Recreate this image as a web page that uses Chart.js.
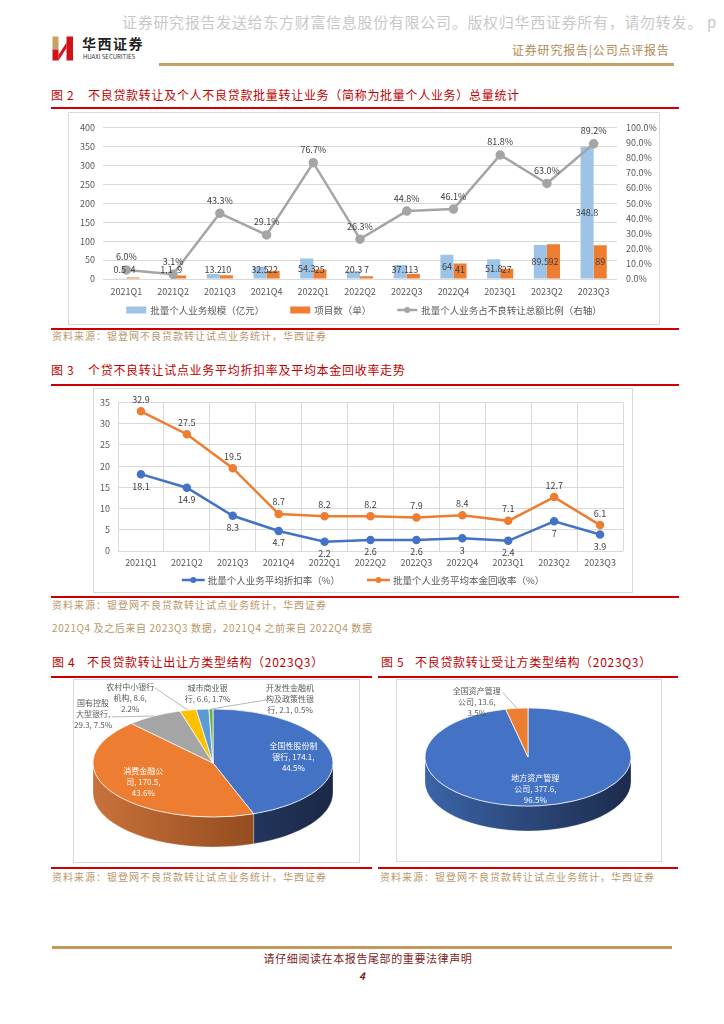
<!DOCTYPE html>
<html lang="zh-CN">
<head>
<meta charset="utf-8">
<title>不良贷款转让统计</title>
<script src="https://cdn.jsdelivr.net/npm/chart.js@4.4.1/dist/chart.umd.min.js"></script>
<style>
  body { margin: 0; background: #fff; }
  #page { position: relative; width: 724px; height: 1024px; overflow: hidden;
          font-family: "Noto Sans CJK SC", "Noto Sans", sans-serif; }
  .t { position: absolute; white-space: nowrap; line-height: 1; }
  .rule { position: absolute; height: 2px; background: #cc0000; }
  .box { position: absolute; border: 1px solid #d9d9d9; box-sizing: border-box; }
  .box div { position: relative; width: 100%; height: 100%; }
  .title { color: #c00000; font-size: 12px; letter-spacing: 0.7px; }
  .src { color: #b8976a; font-size: 10px; letter-spacing: 1px; }
</style>
</head>
<body>
<div id="page">
  <div class="t" style="left:122px;top:14px;font-size:15px;letter-spacing:0.7px;color:#c8c8c8;">证券研究报告发送给东方财富信息股份有限公司。版权归华西证券所有，请勿转发。 p</div>

  <svg style="position:absolute;left:52px;top:36px;" width="22" height="25" viewBox="0 0 22 25">
    <rect x="0.5" y="0.5" width="6" height="13" fill="#c9a063"/>
    <rect x="0.5" y="13.5" width="6" height="11" fill="#d0121b"/>
    <rect x="14.5" y="0.5" width="6.5" height="24" fill="#d0121b"/>
    <polygon points="6.5,19 6.5,24.5 14.5,12 14.5,6.5" fill="#d0121b"/>
  </svg>
  <div class="t" style="left:82px;top:36px;font-size:14px;font-weight:bold;letter-spacing:1.5px;color:#222;">华西证券</div>
  <div class="t" style="left:83px;top:54px;font-size:6px;color:#333;">HUAXI SECURITIES</div>
  <div class="t" style="left:512px;top:44px;font-size:12px;letter-spacing:0.8px;color:#b08a52;">证券研究报告|公司点评报告</div>
  <div style="position:absolute;left:159px;top:63px;width:515px;height:2.5px;background:#c9a063;"></div>

  <div class="t title" style="left:51px;top:89px;">图 2</div>
  <div class="t title" style="left:88px;top:89px;">不良贷款转让及个人不良贷款批量转让业务（简称为批量个人业务）总量统计</div>
  <div class="rule" style="left:51px;top:107px;width:628px;"></div>
  <div class="box" style="left:68px;top:112px;width:592px;height:213px;"><div><canvas id="c1"></canvas></div></div>
  <div class="rule" style="left:51px;top:328px;width:628px;"></div>
  <div class="t src" style="left:52px;top:331px;">资料来源：银登网不良贷款转让试点业务统计，华西证券</div>

  <div class="t title" style="left:51px;top:364px;">图 3</div>
  <div class="t title" style="left:88px;top:364px;">个贷不良转让试点业务平均折扣率及平均本金回收率走势</div>
  <div class="rule" style="left:51px;top:384px;width:628px;"></div>
  <div class="box" style="left:93px;top:388px;width:540px;height:205px;"><div><canvas id="c2"></canvas></div></div>
  <div class="rule" style="left:51px;top:596px;width:628px;"></div>
  <div class="t src" style="left:52px;top:600px;">资料来源：银登网不良贷款转让试点业务统计，华西证券</div>
  <div class="t src" style="left:52px;top:623px;letter-spacing:0.6px;">2021Q4 及之后来自 2023Q3 数据，2021Q4 之前来自 2022Q4 数据</div>

  <div class="t title" style="left:52px;top:656px;">图 4</div>
  <div class="t title" style="left:87px;top:656px;">不良贷款转让出让方类型结构（2023Q3）</div>
  <div class="t title" style="left:381px;top:656px;">图 5</div>
  <div class="t title" style="left:415px;top:656px;">不良贷款转让受让方类型结构（2023Q3）</div>
  <div class="rule" style="left:51px;top:676px;width:321px;"></div>
  <div class="rule" style="left:378px;top:676px;width:300px;"></div>
  <div class="box" style="left:73px;top:679px;width:287px;height:184px;"><div><canvas id="c3"></canvas></div></div>
  <div class="box" style="left:396px;top:679px;width:266px;height:183px;"><div><canvas id="c4"></canvas></div></div>
  <div class="rule" style="left:51px;top:867px;width:321px;"></div>
  <div class="rule" style="left:378px;top:867px;width:300px;"></div>
  <div class="t src" style="left:52px;top:872px;">资料来源：银登网不良贷款转让试点业务统计，华西证券</div>
  <div class="t src" style="left:380px;top:872px;">资料来源：银登网不良贷款转让试点业务统计，华西证券</div>

  <div style="position:absolute;left:52px;top:946px;width:620px;height:3px;background:#c49a5c;"></div>
  <div class="t" style="left:0;width:736px;text-align:center;top:953px;font-size:11px;letter-spacing:0.6px;color:#7b1c1c;">请仔细阅读在本报告尾部的重要法律声明</div>
  <div class="t" style="left:359px;top:971px;font-size:10px;font-weight:bold;font-style:italic;color:#7b1c1c;">4</div>
</div>

<script>
const FONT = '"Noto Sans CJK SC", "Noto Sans", sans-serif';

// 图2 / 图3 共用季度
const quarters = ['2021Q1', '2021Q2', '2021Q3', '2021Q4', '2022Q1', '2022Q2', '2022Q3', '2022Q4', '2023Q1', '2023Q2', '2023Q3'];
const batchScale = [0.5, 1.1, 13.2, 32.5, 54.3, 20.3, 37.1, 64, 51.8, 89.5, 348.8];
const projectCount = [4, 9, 10, 22, 25, 7, 13, 41, 27, 92, 89];
const batchShare = [6.0, 3.1, 43.3, 29.1, 76.7, 26.3, 44.8, 46.1, 81.8, 63.0, 89.2];
const scaleAxis = { max: 400, step: 50 };
const shareAxis = { max: 100, step: 10 };

const discountRate = [18.1, 14.9, 8.3, 4.7, 2.2, 2.6, 2.6, 3, 2.4, 7, 3.9];
const recoveryRate = [32.9, 27.5, 19.5, 8.7, 8.2, 8.2, 7.9, 8.4, 7.1, 12.7, 6.1];
const rateAxis = { max: 35, step: 5 };

// 图4 / 图5 饼图
const sellerTypes = ['全国性股份制银行', '消费金融公司', '国有控股大型银行', '农村中小银行机构', '城市商业银行', '开发性金融机构及政策性银行'];
const sellerAmount = [174.1, 170.5, 29.3, 8.6, 6.6, 2.1];
const sellerShare = [44.5, 43.6, 7.5, 2.2, 1.7, 0.5];
const buyerTypes = ['地方资产管理公司', '全国资产管理公司'];
const buyerAmount = [377.6, 13.6];
const buyerShare = [96.5, 3.5];

const tickFont = { family: FONT, size: 9 };

function bottomLegend(o) {
  return {
    id: 'bottomLegend',
    afterDraw(chart) {
      const ctx = chart.ctx;
      ctx.save();
      ctx.font = o.size + 'px ' + FONT;
      const items = chart.data.datasets.map((ds, i) => ({
        ds, line: chart.getDatasetMeta(i).type === 'line',
        w: o.marker + o.gap + ctx.measureText(ds.label).width
      }));
      const total = items.reduce((s, it) => s + it.w, 0) + o.spacing * (items.length - 1);
      let x = (chart.width - total) / 2;
      const y = chart.height - o.bottom;
      items.forEach(it => {
        if (it.line) {
          ctx.strokeStyle = it.ds.borderColor; ctx.lineWidth = 2.5;
          ctx.beginPath(); ctx.moveTo(x, y); ctx.lineTo(x + o.marker, y); ctx.stroke();
          ctx.fillStyle = it.ds.borderColor;
          ctx.beginPath(); ctx.arc(x + o.marker / 2, y, 3, 0, Math.PI * 2); ctx.fill();
        } else {
          ctx.fillStyle = it.ds.backgroundColor;
          ctx.fillRect(x, y - o.box / 2, o.marker, o.box);
        }
        ctx.fillStyle = '#595959'; ctx.textBaseline = 'middle'; ctx.textAlign = 'left';
        ctx.fillText(it.ds.label, x + o.marker + o.gap, y + 0.5);
        x += it.w + o.spacing;
      });
      ctx.restore();
    }
  };
}

// places: 'center' | 'above' | 'below'
function valueLabels(o) {
  return {
    id: 'valueLabels',
    afterDatasetsDraw(chart) {
      const ctx = chart.ctx;
      ctx.save();
      ctx.font = o.size + 'px ' + FONT;
      ctx.fillStyle = '#404040'; ctx.textAlign = 'center'; ctx.textBaseline = 'middle';
      chart.data.datasets.forEach((ds, i) => {
        chart.getDatasetMeta(i).data.forEach((el, j) => {
          const v = ds.data[j];
          const txt = (o.decimals[i] == null ? String(v) : v.toFixed(o.decimals[i])) + o.suffix[i];
          let y;
          if (o.places[i] === 'center') y = Math.min((el.y + el.base) / 2, el.base - 9);
          else if (o.places[i] === 'below') y = el.y + o.gap;
          else y = el.y - o.gap;
          ctx.fillText(txt, el.x, y);
        });
      });
      ctx.restore();
    }
  };
}

new Chart(document.getElementById('c1'), {
  type: 'bar',
  data: {
    labels: quarters,
    datasets: [
      { label: '批量个人业务规模（亿元）', data: batchScale, backgroundColor: '#9DC3E6', yAxisID: 'y', order: 2 },
      { label: '项目数（单）', data: projectCount, backgroundColor: '#ED7D31', yAxisID: 'y', order: 2 },
      { type: 'line', label: '批量个人业务占不良转让总额比例（右轴）', data: batchShare, yAxisID: 'y1', order: 1,
        borderColor: '#A5A5A5', backgroundColor: '#A5A5A5', borderWidth: 2.5, pointRadius: 3.5 }
    ]
  },
  options: {
    animation: false, responsive: true, maintainAspectRatio: false,
    layout: { padding: { top: 12, bottom: 24 } },
    datasets: { bar: { categoryPercentage: 0.56, barPercentage: 1 } },
    scales: {
      x: { grid: { display: false, drawTicks: false }, border: { display: false },
           ticks: { font: tickFont, color: '#595959', padding: 7, maxRotation: 0 },
           afterFit: s => { s.height = 21; } },
      y: { position: 'left', min: 0, max: scaleAxis.max, border: { display: false },
           grid: { color: '#d9d9d9', drawTicks: false },
           ticks: { stepSize: scaleAxis.step, font: tickFont, color: '#595959', padding: 8 },
           afterFit: s => { s.width = 34; } },
      y1: { position: 'right', min: 0, max: shareAxis.max, border: { display: false },
            grid: { display: false, drawTicks: false },
            ticks: { stepSize: shareAxis.step, font: tickFont, color: '#595959', padding: 9,
                     callback: v => v.toFixed(1) + '%' },
            afterFit: s => { s.width = 42; } }
    },
    plugins: { legend: { display: false }, tooltip: { enabled: false } }
  },
  plugins: [
    bottomLegend({ size: 9.5, marker: 20, box: 7, gap: 4, spacing: 26, bottom: 14 }),
    valueLabels({ size: 9, gap: 13, places: ['center', 'center', 'above'], decimals: [null, null, 1], suffix: ['', '', '%'] })
  ]
});

new Chart(document.getElementById('c2'), {
  type: 'line',
  data: {
    labels: quarters,
    datasets: [
      { label: '批量个人业务平均折扣率（%）', data: discountRate, borderColor: '#4472C4', backgroundColor: '#4472C4',
        borderWidth: 2.5, pointRadius: 3 },
      { label: '批量个人业务平均本金回收率（%）', data: recoveryRate, borderColor: '#ED7D31', backgroundColor: '#ED7D31',
        borderWidth: 2.5, pointRadius: 3 }
    ]
  },
  options: {
    animation: false, responsive: true, maintainAspectRatio: false,
    layout: { padding: { top: 8, right: 9, bottom: 22 } },
    scales: {
      x: { offset: true, border: { display: false },
           grid: { offset: true, color: '#d9d9d9', drawTicks: false },
           ticks: { font: tickFont, color: '#595959', padding: 6, maxRotation: 0 },
           afterFit: s => { s.height = 19; } },
      y: { min: 0, max: rateAxis.max, border: { display: false },
           grid: { color: '#d9d9d9', drawTicks: false },
           ticks: { stepSize: rateAxis.step, font: tickFont, color: '#595959', padding: 8 },
           afterFit: s => { s.width = 24; } }
    },
    plugins: { legend: { display: false }, tooltip: { enabled: false } }
  },
  plugins: [
    bottomLegend({ size: 9.5, marker: 23, box: 7, gap: 3, spacing: 27, bottom: 12 }),
    valueLabels({ size: 9, gap: 12, places: ['below', 'above'], decimals: [null, null], suffix: ['', ''] })
  ]
});

// CJK chars break strictly at maxW, number tokens may run `slack` px past it
function wrapText(ctx, text, maxW, slack) {
  const tokens = text.match(/[\u3400-\u9fff]|[^\u3400-\u9fff\s]+\s*/g);
  const lines = [];
  let line = '';
  tokens.forEach(t => {
    const trial = line + t;
    const limit = /[\u3400-\u9fff]/.test(t) ? maxW : maxW + slack;
    if (line && ctx.measureText(trial.trimEnd()).width > limit) { lines.push(line.trimEnd()); line = t; }
    else line = trial;
  });
  if (line) lines.push(line.trimEnd());
  return lines;
}

// flat Chart.js pie squashed into an ellipse, with a drawn rim for depth
function pie3d(cfg) {
  return {
    id: 'pie3d',
    beforeDatasetsDraw(chart) {
      const ctx = chart.ctx;
      const arcs = chart.getDatasetMeta(0).data;
      const { x, y } = arcs[0];
      ctx.save();
      ctx.translate(x, y); ctx.scale(1, cfg.tilt); ctx.translate(-x, -y);
      const d = cfg.depth / cfg.tilt;
      arcs.forEach((a, i) => {
        const s = Math.max(a.startAngle, 0), e = Math.min(a.endAngle, Math.PI);
        if (e <= s) return;
        const r = a.outerRadius;
        const g = ctx.createLinearGradient(x - r, 0, x + r, 0);
        g.addColorStop(0, cfg.side[i][0]); g.addColorStop(1, cfg.side[i][1]);
        ctx.beginPath();
        ctx.arc(x, y, r, s, e);
        ctx.arc(x, y + d, r, e, s, true);
        ctx.closePath();
        ctx.fillStyle = g; ctx.fill();
        ctx.strokeStyle = 'rgba(255,255,255,0.6)'; ctx.lineWidth = 0.6; ctx.stroke();
      });
    },
    afterDatasetsDraw(chart) {
      chart.ctx.restore();
    },
    afterDraw(chart) {
      const ctx = chart.ctx;
      const arcs = chart.getDatasetMeta(0).data;
      ctx.save();
      ctx.font = cfg.fontSize + 'px ' + FONT;
      ctx.textAlign = 'center'; ctx.textBaseline = 'middle';
      arcs.forEach((a, i) => {
        const m = (a.startAngle + a.endAngle) / 2;
        const lines = wrapText(ctx, cfg.labels[i], cfg.wrap[i], cfg.slack[i]);
        const off = cfg.outside[i];
        let cx, cy;
        if (!off) {
          cx = a.x + cfg.inner * a.outerRadius * Math.cos(m);
          cy = a.y + cfg.inner * a.outerRadius * cfg.tilt * Math.sin(m);
          ctx.fillStyle = '#ffffff';
        } else {
          const ex = a.x + a.outerRadius * Math.cos(m);
          const ey = a.y + a.outerRadius * cfg.tilt * Math.sin(m);
          cx = ex + off[0]; cy = ey + off[1];
          if (off.length > 2) {
            ctx.strokeStyle = '#a6a6a6'; ctx.lineWidth = 0.8;
            ctx.beginPath(); ctx.moveTo(ex, ey); ctx.lineTo(cx + off[2], cy + off[3]); ctx.stroke();
          }
          ctx.fillStyle = '#595959';
        }
        lines.forEach((ln, k) => ctx.fillText(ln, cx, cy + (k - (lines.length - 1) / 2) * cfg.lineHeight));
      });
      ctx.restore();
    }
  };
}

function pieLabels(names, amounts, shares) {
  return names.map((n, i) => n + ', ' + amounts[i] + ', ' + shares[i].toFixed(1) + '%');
}

function drawPie(id, names, amounts, shares, colors, look) {
  return new Chart(document.getElementById(id), {
    type: 'pie',
    data: {
      labels: names,
      datasets: [{ data: amounts, backgroundColor: colors, borderColor: '#ffffff', borderWidth: 1, clip: false }]
    },
    options: {
      animation: false, responsive: true, maintainAspectRatio: false,
      radius: look.rx,
      layout: { padding: look.padding },
      plugins: { legend: { display: false }, tooltip: { enabled: false } }
    },
    plugins: [pie3d(Object.assign({ labels: pieLabels(names, amounts, shares) }, look))]
  });
}

drawPie('c3', sellerTypes, sellerAmount, sellerShare,
  ['#4472C4', '#ED7D31', '#A5A5A5', '#FFC000', '#5B9BD5', '#70AD47'],
  { rx: 120, tilt: 0.45, depth: 30, padding: { right: 7, bottom: 16 },
    side: [['#30508c', '#1b2846'], ['#c9713a', '#7a3a12'], ['#8a8a8a', '#5a5a5a'],
           ['#c99700', '#8a6800'], ['#4a80b3', '#2c5680'], ['#5a8c3a', '#3c6026']],
    fontSize: 8, lineHeight: 11, inner: 0.68,
    wrap: [50, 42, 36, 50, 44, 50], slack: [0, 0, 6, 0, 6, 0],
    outside: [null, null, [-61, -2, 19, 3], [-58, -12, 25, -10], [5, -16], [79, -10, -24, 1]] });

drawPie('c4', buyerTypes, buyerAmount, buyerShare,
  ['#4472C4', '#ED7D31'],
  { rx: 103, tilt: 0.476, depth: 25, padding: { right: 2, bottom: 27 },
    side: [['#3b64a8', '#1c2b4c'], ['#c9713a', '#7a3a12']],
    fontSize: 8, lineHeight: 11, inner: 0.65,
    wrap: [50, 50], slack: [0, 0],
    outside: [null, [-40, -6, 26, -10]] });
</script>
</body>
</html>
